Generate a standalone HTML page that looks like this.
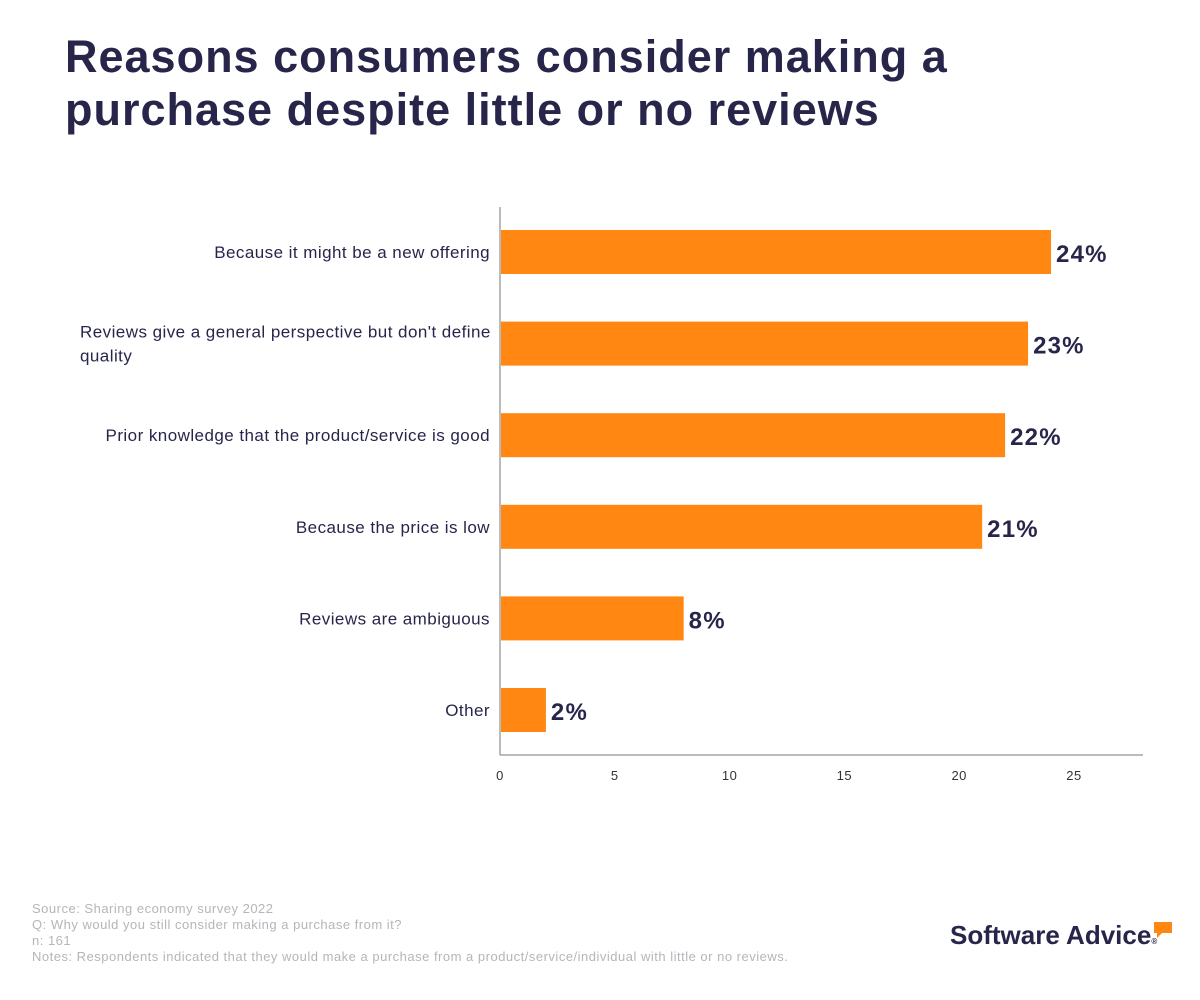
<!DOCTYPE html>
<html><head><meta charset="utf-8"><style>
body{margin:0;width:1200px;height:1000px;background:#fff;font-family:"Liberation Sans",sans-serif;position:relative;overflow:hidden}
h1{position:absolute;left:65px;top:30px;margin:0;font-size:45px;line-height:53px;font-weight:bold;color:#27264a;letter-spacing:1px;white-space:nowrap}
.foot{position:absolute;left:32px;top:901px;font-size:13px;line-height:16px;color:#b5b5bb;letter-spacing:0.5px;white-space:nowrap}
.logo{position:absolute;left:950px;top:920px;font-size:26px;font-weight:bold;color:#27264a;letter-spacing:0px}
</style></head><body>
<h1>Reasons consumers consider making a<br>purchase despite little or no reviews</h1>
<svg id="chart" width="1200" height="1000" style="position:absolute;left:0;top:0"></svg>
<div class="foot">Source: Sharing economy survey 2022<br>Q: Why would you still consider making a purchase from it?<br>n: 161<br>Notes: Respondents indicated that they would make a purchase from a product/service/individual with little or no reviews.</div>
<div class="logo">Software Advice<span style="font-size:8px">®</span><svg width="22" height="20" style="position:absolute;left:202px;top:0"><path d="M2 2h18v11h-10l-5 5v-5h-3z" fill="#ff8712"/></svg></div>
<script>
const categories=[["Because it might be a new offering"],["Reviews give a general perspective but don't define","quality"],["Prior knowledge that the product/service is good"],["Because the price is low"],["Reviews are ambiguous"],["Other"]];
const values=[24,23,22,21,8,2];
const labels=["24%","23%","22%","21%","8%","2%"];
const ticks=[0,5,10,15,20,25];
const NS="http://www.w3.org/2000/svg";
const svg=document.getElementById('chart');
const x0=500,pxPer=22.96,yTop=207,yBot=755,step=91.6,firstC=252,bh=44;
const xs=v=>x0+v*pxPer;
const yc=i=>firstC+i*step;
function mk(t,a){const e=document.createElementNS(NS,t);for(const k in a)e.setAttribute(k,a[k]);svg.appendChild(e);return e;}
let ax=mk('line',{x1:x0,y1:yTop,x2:x0,y2:yBot,stroke:'#777','stroke-width':1});


let axx=mk('line',{x1:x0,y1:yBot,x2:1143,y2:yBot,stroke:'#777','stroke-width':1});


ticks.forEach(t=>{const e=mk('text',{x:xs(t),y:780,'text-anchor':'middle','font-size':13,fill:'#333','font-family':'Liberation Sans','letter-spacing':0.5});e.textContent=t;

});
values.forEach((v,i)=>{
const r=mk('rect',{x:x0+1,y:yc(i)-bh/2,width:xs(v)-x0-1,height:bh,fill:'#ff8712'});


const t=mk('text',{x:xs(v)+5,y:yc(i)+10,'font-size':24,'font-weight':'bold',fill:'#27264a','font-family':'Liberation Sans','letter-spacing':1.2});t.textContent=labels[i];


const lines=categories[i];
if(lines.length===1){const c=mk('text',{x:490,y:yc(i)+6,'text-anchor':'end','font-size':17,fill:'#27264a','font-family':'Liberation Sans','letter-spacing':0.45});c.textContent=lines[0];

}
else{lines.forEach((l,j)=>{const c=mk('text',{x:80,y:yc(i)-6+j*24,'font-size':17,fill:'#27264a','font-family':'Liberation Sans','letter-spacing':0.45});c.textContent=l;

});}
});
</script>
</body></html>
